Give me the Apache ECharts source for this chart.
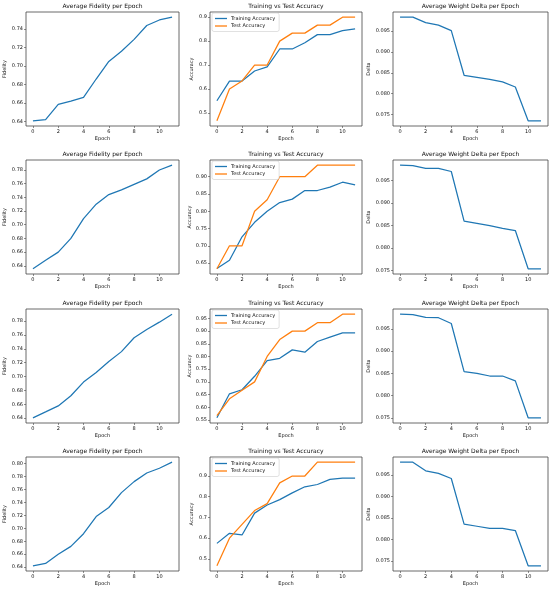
<!DOCTYPE html>
<html><head><meta charset="utf-8">
<script src="https://cdn.jsdelivr.net/npm/echarts@6/dist/echarts.min.js"></script>
<style>html,body{margin:0;padding:0;background:#fff}#c{width:550px;height:590px}</style>
</head><body><div id="c"></div>
<script>
// ---- data ----
const epochs = [0,1,2,3,4,5,6,7,8,9,10,11];
const xTicks = [0,2,4,6,8,10];

const fidelity1 = [0.6407,0.642,0.6585,0.662,0.666,0.686,0.705,0.716,0.729,0.744,0.750,0.753];
const fidelity2 = [0.6356,0.648,0.660,0.680,0.709,0.730,0.744,0.751,0.759,0.767,0.780,0.787];
const fidelity3 = [0.6405,0.649,0.6577,0.6724,0.692,0.706,0.7216,0.736,0.756,0.768,0.7785,0.790];
const fidelity4 = [0.642,0.6457,0.6598,0.672,0.6916,0.718,0.732,0.755,0.772,0.7853,0.7926,0.802];

const trainAcc1 = [0.5507,0.633,0.633,0.675,0.692,0.767,0.767,0.793,0.827,0.827,0.844,0.851];
const testAcc1  = [0.4667,0.6,0.6333,0.7,0.7,0.8,0.8333,0.8333,0.8667,0.8667,0.9,0.9];
const trainAcc2 = [0.634,0.658,0.726,0.768,0.8,0.825,0.835,0.860,0.860,0.870,0.884,0.876];
const testAcc2  = [0.6333,0.7,0.7,0.8,0.8333,0.9,0.9,0.9,0.9333,0.9333,0.9333,0.9333];
const trainAcc3 = [0.5583,0.653,0.669,0.722,0.784,0.793,0.826,0.817,0.859,0.876,0.893,0.893];
const testAcc3  = [0.5667,0.6333,0.6667,0.7,0.8,0.8667,0.9,0.9,0.9333,0.9333,0.9667,0.9667];
const trainAcc4 = [0.575,0.6236,0.6155,0.721,0.760,0.786,0.8187,0.848,0.859,0.884,0.890,0.890];
const testAcc4  = [0.4667,0.6,0.6667,0.7333,0.7667,0.8667,0.9,0.9,0.9667,0.9667,0.9667,0.9667];

const delta1 = [0.0983,0.0983,0.0970,0.0964,0.0951,0.0844,0.0839,0.0834,0.0828,0.0816,0.0735,0.0735];
const delta2 = [0.0984,0.0983,0.0977,0.0977,0.0970,0.0860,0.0855,0.0850,0.0844,0.0839,0.0754,0.0754];
const delta3 = [0.0983,0.0982,0.0976,0.0975,0.0962,0.0854,0.0850,0.0844,0.0844,0.0833,0.0750,0.0750];
const delta4 = [0.0980,0.0980,0.0960,0.0954,0.0942,0.0836,0.0831,0.0826,0.0826,0.0821,0.0739,0.0739];

const fidTicks1 = [0.64,0.66,0.68,0.70,0.72,0.74];
const fidTicks2 = [0.64,0.66,0.68,0.70,0.72,0.74,0.76,0.78];
const fidTicks3 = [0.64,0.66,0.68,0.70,0.72,0.74,0.76,0.78];
const fidTicks4 = [0.64,0.66,0.68,0.70,0.72,0.74,0.76,0.78,0.80];
const accTicks1 = [0.5,0.6,0.7,0.8,0.9];
const accTicks2 = [0.65,0.70,0.75,0.80,0.85,0.90];
const accTicks3 = [0.55,0.60,0.65,0.70,0.75,0.80,0.85,0.90,0.95];
const accTicks4 = [0.5,0.6,0.7,0.8,0.9];
const deltaTicks = [0.075,0.080,0.085,0.090,0.095];

const titles = ['Average Fidelity per Epoch','Training vs Test Accuracy','Average Weight Delta per Epoch'];
const yNames = ['Fidelity','Accuracy','Delta'];
const xName = 'Epoch';
const legendNames = ['Training Accuracy','Test Accuracy'];

// ---- layout ----
const colLeft = [26, 210, 393];
const colWidth = [153, 152, 155];
const rowTop = [12, 160, 309, 457];
const plotH = 114;
const yNameGap = [19, 16, 22];
const FONT = 'DejaVu Sans';
const TXT = '#111';
const BLUE = '#1f77b4', ORANGE = '#ff7f0e';

const rows = [
  {fid: fidelity1, fidT: fidTicks1, fd: 2, tr: trainAcc1, te: testAcc1, accT: accTicks1, ad: 1, dl: delta1},
  {fid: fidelity2, fidT: fidTicks2, fd: 2, tr: trainAcc2, te: testAcc2, accT: accTicks2, ad: 2, dl: delta2},
  {fid: fidelity3, fidT: fidTicks3, fd: 2, tr: trainAcc3, te: testAcc3, accT: accTicks3, ad: 2, dl: delta3},
  {fid: fidelity4, fidT: fidTicks4, fd: 2, tr: trainAcc4, te: testAcc4, accT: accTicks4, ad: 1, dl: delta4}
];

function pair(vals){ return epochs.map((e,i)=>[e, vals[i]]); }
function lims(arrs){
  const all = [].concat(...arrs);
  const mn = Math.min(...all), mx = Math.max(...all);
  const p = (mx-mn)*0.05;
  return [mn-p, mx+p];
}

const grid=[], xAxis=[], yAxis=[], series=[], title=[], legend=[];
let gi = 0;
rows.forEach((row, r) => {
  const cols = [
    {lines:[{n:'Fidelity', d:row.fid, c:BLUE}], ticks: row.fidT, dec: row.fd},
    {lines:[{n:legendNames[0], d:row.tr, c:BLUE},{n:legendNames[1], d:row.te, c:ORANGE}], ticks: row.accT, dec: row.ad},
    {lines:[{n:'Delta', d:row.dl, c:BLUE}], ticks: deltaTicks, dec: 3}
  ];
  cols.forEach((col, c) => {
    grid.push({left: colLeft[c], top: rowTop[r], width: colWidth[c], height: plotH,
      show: true, borderColor: '#444', borderWidth: 0.8, backgroundColor: 'transparent', containLabel: false});
    title.push({text: titles[c], left: colLeft[c] + colWidth[c]/2, top: rowTop[r] - 8.5, textAlign: 'center',
      padding: 0, itemGap: 0,
      textStyle: {fontFamily: FONT, fontSize: 6, fontWeight: 'normal', color: TXT}});
    xAxis.push({type: 'value', gridIndex: gi, min: -0.55, max: 11.55,
      name: xName, nameLocation: 'middle', nameGap: 10,
      nameTextStyle: {fontFamily: FONT, fontSize: 5, color: TXT},
      axisLine: {show: false, onZero: false}, splitLine: {show: false},
      axisTick: {show: true, length: 2, lineStyle: {color: '#444', width: 0.6}, customValues: xTicks},
      axisLabel: {fontFamily: FONT, fontSize: 5, color: TXT, margin: 3, customValues: xTicks,
        formatter: v => String(v)}});
    const [mn, mx] = lims(col.lines.map(l => l.d));
    const dec = col.dec;
    yAxis.push({type: 'value', gridIndex: gi, min: mn, max: mx,
      name: yNames[c], nameLocation: 'middle', nameGap: yNameGap[c],
      nameTextStyle: {fontFamily: FONT, fontSize: 5, color: TXT},
      axisLine: {show: false, onZero: false}, splitLine: {show: false},
      axisTick: {show: true, length: 2, lineStyle: {color: '#444', width: 0.6}, customValues: col.ticks},
      axisLabel: {fontFamily: FONT, fontSize: 5, color: TXT, margin: 3, customValues: col.ticks,
        formatter: v => Number(v).toFixed(dec)}});
    col.lines.forEach(l => {
      series.push({type: 'line', name: l.n, xAxisIndex: gi, yAxisIndex: gi, data: pair(l.d),
        symbol: 'none', animation: false, lineStyle: {color: l.c, width: 1.25}, itemStyle: {color: l.c}});
    });
    if (c === 1) {
      legend.push({data: legendNames, orient: 'vertical', left: colLeft[c] + 2, top: rowTop[r] + 1,
        icon: 'rect', itemWidth: 12, itemHeight: 1.3, itemGap: 2.5, padding: [3, 4, 3, 3],
        borderColor: '#ccc', borderWidth: 0.6, borderRadius: 2, backgroundColor: 'rgba(255,255,255,0.8)',
        selectedMode: false,
        textStyle: {fontFamily: FONT, fontSize: 5, color: TXT, padding: [0,0,0,-1]}});
    }
    gi++;
  });
});

const chart = echarts.init(document.getElementById('c'), null, {renderer: 'canvas'});
chart.setOption({backgroundColor: '#fff', animation: false, title, legend, grid, xAxis, yAxis, series});
</script>
</body></html>
